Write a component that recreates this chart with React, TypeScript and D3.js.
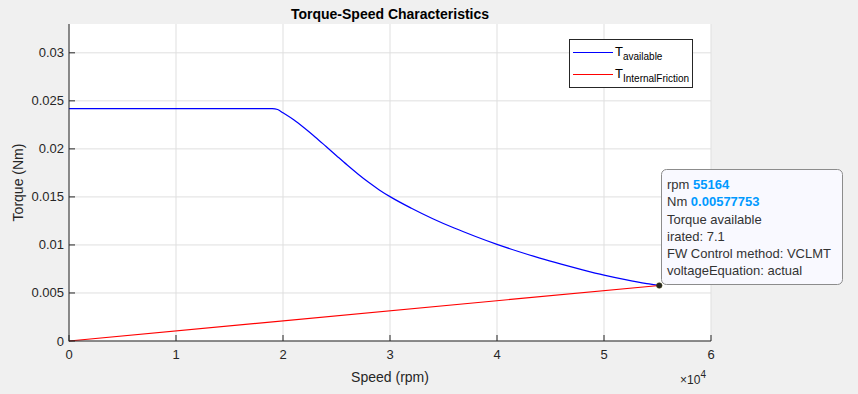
import * as d3 from "d3";

// Torque available (blue)
const availSpeed = [0, 19000, 19500, 20000, 21000, 22000, 23000, 24000, 25000, 26000, 27000, 28000, 29000, 30000, 32000, 34000, 36000, 38000, 40000, 42000, 44000, 46000, 48000, 50000, 52000, 54000, 55164];
const availTorque = [0.0242, 0.0242, 0.0241, 0.02375, 0.02303, 0.02217, 0.02124, 0.02027, 0.01929, 0.01832, 0.01739, 0.01652, 0.01573, 0.01503, 0.01382, 0.01273, 0.01176, 0.01088, 0.01006, 0.00932, 0.00863, 0.008, 0.00741, 0.00686, 0.00639, 0.00598, 0.00578];

// Internal friction torque (red)
const frictionSpeed = [0, 55164];
const frictionTorque = [0, 0.00578];

const xTicks = [0, 10000, 20000, 30000, 40000, 50000, 60000];
const yTicks = [0, 0.005, 0.01, 0.015, 0.02, 0.025, 0.03];

const tipSpeed = 55164;
const tipTorque = 0.00577753;
const tipLines = ["Torque available", "irated: 7.1", "FW Control method: VCLMT", "voltageEquation: actual"];

const W = 858;
const H = 394;
const margin = { top: 24, right: 147, bottom: 53, left: 69 };
const font = "'Liberation Sans', Arial, Helvetica, sans-serif";
const ink = "#262626";

export default function App() {
  const x = d3.scaleLinear().domain([0, 60000]).range([margin.left, W - margin.right]);
  const y = d3.scaleLinear().domain([0, 0.033]).range([H - margin.bottom, margin.top]);

  const line = d3
    .line<[number, number]>()
    .x((d) => x(d[0]))
    .y((d) => y(d[1]))
    .curve(d3.curveMonotoneX);

  const avail = availSpeed.map((s, i) => [s, availTorque[i]] as [number, number]);
  const friction = frictionSpeed.map((s, i) => [s, frictionTorque[i]] as [number, number]);

  const x0 = margin.left;
  const x1 = W - margin.right;
  const y0 = H - margin.bottom;
  const y1 = margin.top;

  const px = x(tipSpeed);
  const py = y(tipTorque);

  // legend box
  const lg = { x: 569, y: 39, w: 123, h: 48 };
  // datatip box
  const tip = { x: 661, y: 169, w: 181, h: 115 };

  return (
    <svg
      width={W}
      height={H}
      style={{ position: "absolute", left: 0, top: 0, display: "block" }}
      fontFamily={font}
    >
      <rect width={W} height={H} fill="#f0f0f0" />
      <rect x={x0} y={y1} width={x1 - x0} height={y0 - y1} fill="#ffffff" />

      {/* grid */}
      {xTicks.map((t) => (
        <line key={"gx" + t} x1={x(t)} x2={x(t)} y1={y1} y2={y0} stroke="#dfdfdf" strokeWidth={1} />
      ))}
      {yTicks.map((t) => (
        <line key={"gy" + t} x1={x0} x2={x1} y1={y(t)} y2={y(t)} stroke="#dfdfdf" strokeWidth={1} />
      ))}

      {/* curves */}
      <path d={line(avail) || ""} fill="none" stroke="#0000ff" strokeWidth={1.2} />
      <path d={line(friction) || ""} fill="none" stroke="#ff0000" strokeWidth={1.2} />

      {/* axes */}
      <line x1={x0} x2={x0} y1={y1} y2={y0 + 0.5} stroke={ink} strokeWidth={1} />
      <line x1={x0} x2={x1} y1={y0} y2={y0} stroke={ink} strokeWidth={1} />
      {xTicks.map((t) => (
        <g key={"tx" + t}>
          <line x1={x(t)} x2={x(t)} y1={y0} y2={y0 - 6} stroke={ink} />
          <text x={x(t)} y={y0 + 18} textAnchor="middle" fontSize={13} fill={ink}>
            {t / 10000}
          </text>
        </g>
      ))}
      {yTicks.map((t) => (
        <g key={"ty" + t}>
          <line x1={x0} x2={x0 + 6} y1={y(t)} y2={y(t)} stroke={ink} />
          <text x={x0 - 5} y={y(t) + 4.5} textAnchor="end" fontSize={13} fill={ink}>
            {String(+t.toFixed(3))}
          </text>
        </g>
      ))}

      {/* labels */}
      <text x={(x0 + x1) / 2} y={19} textAnchor="middle" fontSize={14} fontWeight="bold" fill="#000">
        Torque-Speed Characteristics
      </text>
      <text x={(x0 + x1) / 2} y={382} textAnchor="middle" fontSize={14} fill={ink}>
        Speed (rpm)
      </text>
      <text x={x1 - 5} y={384} textAnchor="end" fontSize={12} fill={ink}>
        ×10
        <tspan fontSize={10} dy={-6}>
          4
        </tspan>
      </text>
      <text
        transform={`translate(23, ${(y0 + y1) / 2}) rotate(-90)`}
        textAnchor="middle"
        fontSize={14}
        fill={ink}
      >
        Torque (Nm)
      </text>

      {/* legend */}
      <rect x={lg.x + 0.5} y={lg.y + 0.5} width={lg.w} height={lg.h} fill="#ffffff" stroke="#262626" strokeWidth={1} />
      <line x1={573} x2={613} y1={52.5} y2={52.5} stroke="#0000ff" strokeWidth={1.2} />
      <text x={615} y={56} fontSize={13} fill="#000">
        T
        <tspan fontSize={10} dy={4}>
          available
        </tspan>
      </text>
      <line x1={573} x2={613} y1={74.5} y2={74.5} stroke="#ff0000" strokeWidth={1.2} />
      <text x={615} y={78} fontSize={13} fill="#000">
        T
        <tspan fontSize={10} dy={4}>
          InternalFriction
        </tspan>
      </text>

      {/* data tip */}
      <rect
        x={tip.x + 0.5}
        y={tip.y + 0.5}
        width={tip.w}
        height={tip.h}
        rx={5}
        fill="#f9f9ff"
        stroke="#8c8c8c"
        strokeWidth={1}
      />
      <circle cx={px} cy={py} r={2.8} fill="#262626" stroke="#444400" strokeWidth={0.5} />
      <text x={667} y={189} fontSize={13} fill="#333">
        rpm{" "}
        <tspan fill="#0099ff" fontWeight="bold">
          {tipSpeed}
        </tspan>
      </text>
      <text x={667} y={206} fontSize={13} fill="#333">
        Nm{" "}
        <tspan fill="#0099ff" fontWeight="bold">
          {tipTorque}
        </tspan>
      </text>
      {tipLines.map((s, i) => (
        <text key={s} x={667} y={223.5 + i * 17} fontSize={13} fill="#333">
          {s}
        </text>
      ))}
    </svg>
  );
}
